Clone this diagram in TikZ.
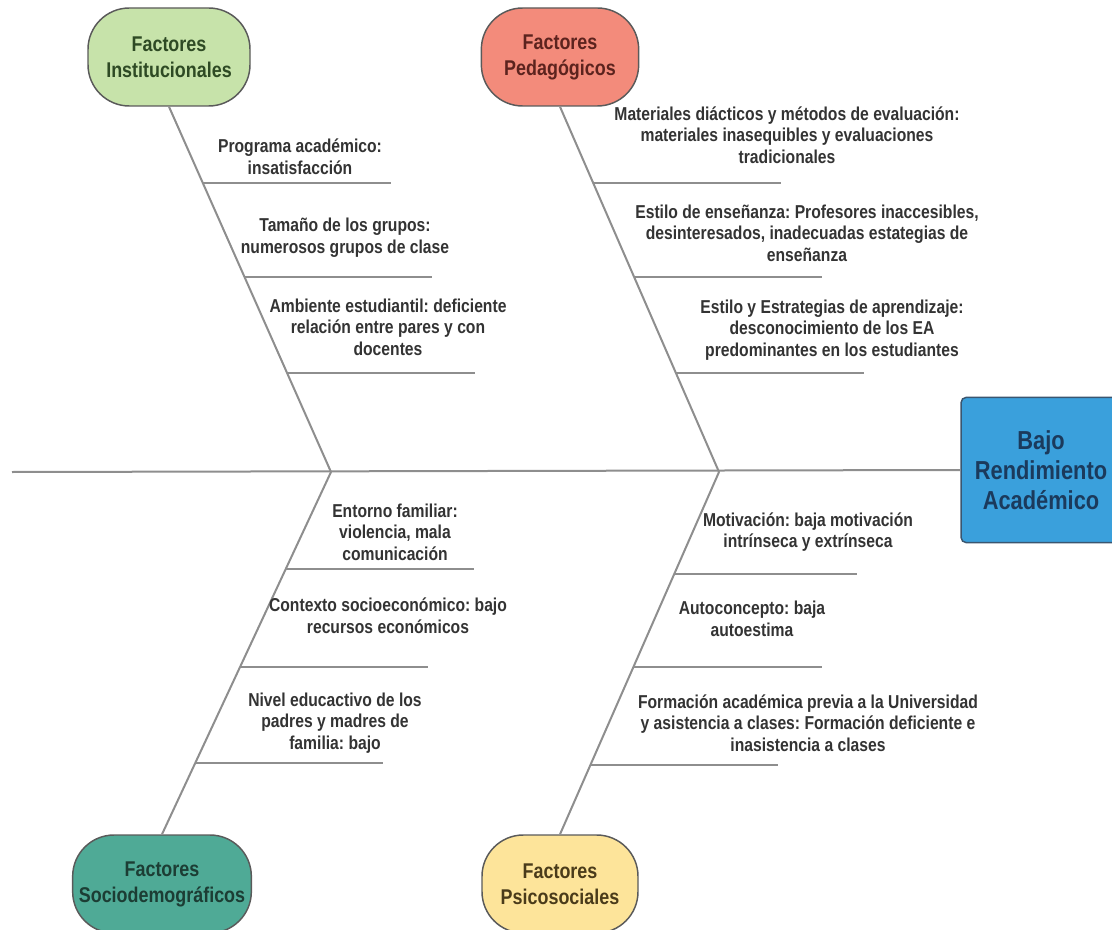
\documentclass[tikz,border=0pt]{standalone}
\usepackage{fontspec}
\newfontfamily\fishfont{Liberation Sans}[FakeStretch=0.84]
\usetikzlibrary{calc}

\definecolor{bonegray}{HTML}{8E8E8E}
\definecolor{itemgray}{HTML}{333333}
\definecolor{pillborder}{HTML}{5A5A5A}
\definecolor{instfill}{HTML}{C7E3AA}
\definecolor{insttext}{HTML}{2E4A24}
\definecolor{pedafill}{HTML}{F38B7B}
\definecolor{pedatext}{HTML}{5C231E}
\definecolor{sociofill}{HTML}{4FAA96}
\definecolor{sociotext}{HTML}{1C3D34}
\definecolor{psicofill}{HTML}{FDE49A}
\definecolor{psicotext}{HTML}{4A3B1A}
\definecolor{effectfill}{HTML}{3AA0DC}
\definecolor{effecttext}{HTML}{1B3A5C}
\definecolor{effectborder}{HTML}{3A5670}

\tikzset{
  bone/.style={draw=bonegray, line width=1.5pt},
  cause/.style={draw=pillborder, line width=1.1pt, rounded corners=31pt,
    minimum height=73.5pt, align=center, inner sep=0pt,
    font=\fishfont\bfseries\frenchspacing\fontsize{16}{19.5}\selectfont},
  item/.style={align=center, text=itemgray, inner sep=0pt,
    font=\fishfont\bfseries\frenchspacing\fontsize{14}{16.2}\selectfont},
}

\begin{document}
\begin{tikzpicture}[x=0.75pt,y=-0.75pt]
\useasboundingbox (0,0) rectangle (1112,930);
\clip (0,0) rectangle (1112,930);

% effect
\node[draw=effectborder, line width=1.1pt, fill=effectfill, rounded corners=4pt,
  minimum width=120pt, minimum height=109pt, align=center, text=effecttext,
  font=\fishfont\bfseries\fontsize{19.5}{22.5}\selectfont] (bajo) at (1041,470)
  {Bajo\\Rendimiento\\Académico};

% causes
\node[cause, fill=instfill, text=insttext, minimum width=121.5pt] (inst) at (169,57)
  {Factores\\Institucionales};
\node[cause, fill=pedafill, text=pedatext, minimum width=118pt] (peda) at (560,57)
  {Factores\\Pedagógicos};
\node[cause, fill=sociofill, text=sociotext, minimum width=134pt] (socio) at (162,884)
  {Factores\\Sociodemográficos};
\node[cause, fill=psicofill, text=psicotext, minimum width=117pt] (psico) at (560,884)
  {Factores\\Psicosociales};

% spine
\coordinate (tail) at (12,472);
\coordinate (jleft) at (331,472);
\coordinate (jright) at (719,472);
\draw[bone] (tail) -- (bajo.west);

% bones
\draw[bone] (inst.south) -- (jleft);
\draw[bone] (peda.south) -- (jright);
\draw[bone] (socio.north) -- (jleft);
\draw[bone] (psico.north) -- (jright);

% ticks
\coordinate (ti1) at ($(inst.south)!0.208!(jleft)$);
\coordinate (ti2) at ($(inst.south)!0.465!(jleft)$);
\coordinate (ti3) at ($(inst.south)!0.730!(jleft)$);
\coordinate (tp1) at ($(peda.south)!0.208!(jright)$);
\coordinate (tp2) at ($(peda.south)!0.467!(jright)$);
\coordinate (tp3) at ($(peda.south)!0.730!(jright)$);
\coordinate (ts1) at ($(jleft)!0.267!(socio.north)$);
\coordinate (ts2) at ($(jleft)!0.537!(socio.north)$);
\coordinate (ts3) at ($(jleft)!0.804!(socio.north)$);
\coordinate (tq1) at ($(jright)!0.281!(psico.north)$);
\coordinate (tq2) at ($(jright)!0.537!(psico.north)$);
\coordinate (tq3) at ($(jright)!0.810!(psico.north)$);
\draw[bone] (ti1) -- ++(188,0);
\draw[bone] (ti2) -- ++(188,0);
\draw[bone] (ti3) -- ++(188,0);
\draw[bone] (tp1) -- ++(188,0);
\draw[bone] (tp2) -- ++(188,0);
\draw[bone] (tp3) -- ++(188,0);
\draw[bone] (ts1) -- ++(188,0);
\draw[bone] (ts2) -- ++(188,0);
\draw[bone] (ts3) -- ++(188,0);
\draw[bone] (tq1) -- ++(183,0);
\draw[bone] (tq2) -- ++(188,0);
\draw[bone] (tq3) -- ++(188,0);

% labels
\node[item] (inst1) at (300,157) {Programa académico:\\insatisfacción};
\node[item] (inst2) at (345,238) {Tamaño de los grupos:\\numerosos grupos de clase};
\node[item] (inst3) at (388,327) {Ambiente estudiantil: deficiente\\relación entre pares y con\\docentes};
\node[item] (peda1) at (787,135) {Materiales diácticos y métodos de evaluación:\\materiales inasequibles y evaluaciones\\tradicionales};
\node[item] (peda2) at (807,233) {Estilo de enseñanza: Profesores inaccesibles,\\desinteresados, inadecuadas estategias de\\enseñanza};
\node[item] (peda3) at (832,330) {Estilo y Estrategias de aprendizaje:\\desconocimiento de los EA\\predominantes en los estudiantes};
\node[item] (socio1) at (395,532) {Entorno familiar:\\violencia, mala\\comunicación};
\node[item] (socio2) at (388,616) {Contexto socioeconómico: bajo\\recursos económicos};
\node[item] (socio3) at (335,723) {Nivel educactivo de los\\padres y madres de\\familia: bajo};
\node[item] (psico1) at (808,532) {Motivación: baja motivación\\intrínseca y extrínseca};
\node[item] (psico2) at (752,619) {Autoconcepto: baja\\autoestima};
\node[item] (psico3) at (808,723) {Formación académica previa a la Universidad\\y asistencia a clases: Formación deficiente e\\inasistencia a clases};

\end{tikzpicture}
\end{document}
